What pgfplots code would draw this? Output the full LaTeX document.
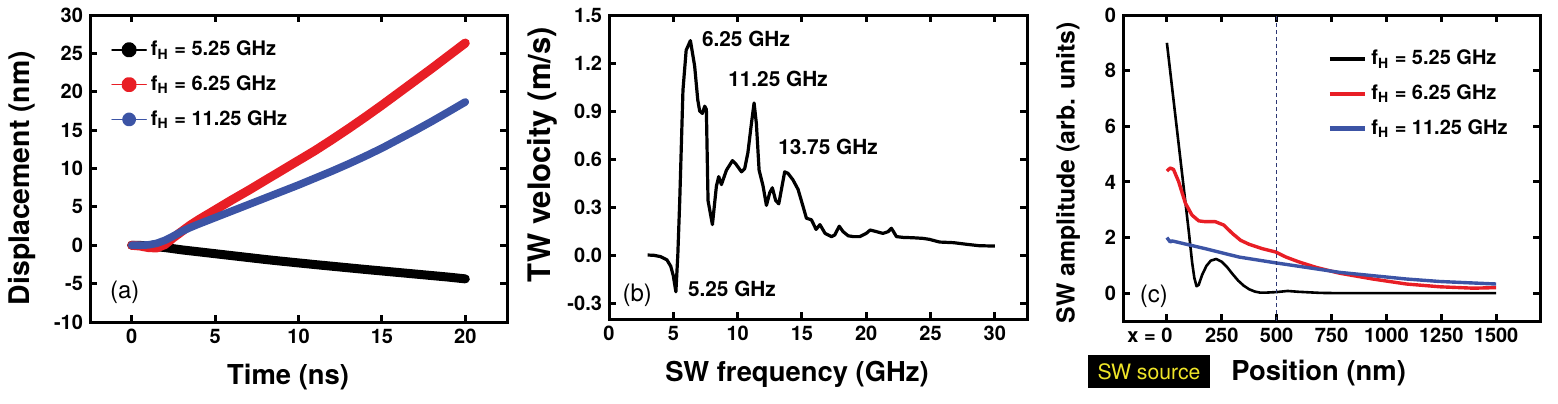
\documentclass[border=0pt]{standalone}
\usepackage{pgfplots}
\pgfplotsset{compat=1.18}
\usepackage{fontspec}
\setmainfont{TeX Gyre Heros}
\definecolor{myred}{RGB}{232,30,37}
\definecolor{myblue}{RGB}{60,84,165}
\definecolor{navy}{RGB}{45,55,115}
\definecolor{srcyellow}{RGB}{238,228,40}

\pgfplotsset{
  myaxis/.style={
    scale only axis,
    axis line style={line width=1.5pt},
    every tick/.style={black, line width=1.5pt},
    tick align=inside,
    major tick length=3.5pt,
    tick label style={font=\bfseries\fontsize{10}{12}\selectfont},
    /pgf/number format/assume math mode=true,
    label style={font=\bfseries\fontsize{13.7}{16}\selectfont},
  },
  dotleg/.style={legend image code/.code={
      \draw[##1, line width=0.8pt] (0cm,0cm) -- (0.6cm,0cm);
      \fill[##1] (0.3cm,0cm) circle (1.6pt);}},
}

\begin{document}
\begin{tikzpicture}
\path[use as bounding box] (0,0) rectangle (779pt,-201.5pt);

% ---------------- (a) ----------------
\begin{axis}[myaxis,
  at={(45pt,-7.5pt)}, anchor=north west,
  width=208.5pt, height=153.5pt,
  xmin=-2.5, xmax=22.5, ymin=-10, ymax=30,
  xtick={0,5,10,15,20}, ytick={-10,-5,0,5,10,15,20,25,30},
  xlabel={Time (ns)}, ylabel={Displacement (nm)},
  xlabel style={at={(axis description cs:0.475,0)}, anchor=center, yshift=-27.5pt},
  ylabel style={at={(axis description cs:0,0.469)}, anchor=center, yshift=34pt, font=\bfseries\fontsize{14.2}{16}\selectfont},
  legend style={draw=none, fill=none, at={(axis description cs:0.05,0.93)}, anchor=north west,
    font=\bfseries\fontsize{10}{12}\selectfont, row sep=4.5pt, inner sep=0pt},
  legend cell align=left,
]
\addplot[color=black, line width=4.5pt, line cap=round, line join=round, dotleg] coordinates {
(0,0)(0.5,-0.02)(1,-0.1)(1.5,-0.2)(2,-0.3)(2.5,-0.45)(3,-0.6)(4,-0.85)(5,-1.1)(6,-1.35)(7,-1.6)(8,-1.85)(9,-2.08)(10,-2.3)(11,-2.52)(12,-2.73)(13,-2.94)(14,-3.15)(15,-3.35)(16,-3.55)(17,-3.75)(18,-3.95)(19,-4.15)(20,-4.38)};
\addlegendentry{f\textsubscript{H} = 5.25 GHz}
\addplot[color=myred, line width=4.5pt, line cap=round, line join=round, dotleg] coordinates {
(0,0)(0.5,-0.1)(1,-0.3)(1.5,-0.35)(2,0.1)(2.5,1.0)(3,1.8)(3.5,2.6)(4,3.3)(5,4.6)(6,5.9)(7,7.15)(8,8.45)(9,9.75)(10,11.05)(11,12.35)(12,13.75)(13,15.2)(14,16.7)(15,18.25)(16,19.85)(17,21.45)(18,23.05)(19,24.7)(20,26.35)};
\addlegendentry{f\textsubscript{H} = 6.25 GHz}
\addplot[color=myblue, line width=3.8pt, line cap=round, line join=round, dotleg] coordinates {
(0,0)(0.5,0)(1,0.05)(1.5,0.25)(2,0.65)(2.5,1.2)(3,1.8)(3.5,2.3)(4,2.75)(5,3.6)(6,4.45)(7,5.3)(8,6.15)(9,7.0)(10,7.85)(11,8.75)(12,9.65)(13,10.6)(14,11.6)(15,12.65)(16,13.8)(17,14.95)(18,16.15)(19,17.4)(20,18.67)};
\addlegendentry{f\textsubscript{H} = 11.25 GHz}
\node[font=\fontsize{12}{14}\selectfont] at (axis cs:-0.42,-6.1) {(a)};
\end{axis}

% ---------------- (b) ----------------
\begin{axis}[myaxis,
  at={(304.5pt,-7.5pt)}, anchor=north west,
  width=209pt, height=152pt,
  xmin=0, xmax=32.5, ymin=-0.4, ymax=1.5,
  xtick={0,5,10,15,20,25,30}, ytick={-0.3,0,0.3,0.6,0.9,1.2,1.5},
  yticklabel style={/pgf/number format/.cd, fixed, fixed zerofill, precision=1},
  xlabel={SW frequency (GHz)}, ylabel={TW velocity (m/s)},
  xlabel style={at={(axis description cs:0.45,0)}, anchor=center, yshift=-27.5pt},
  ylabel style={at={(axis description cs:0,0.54)}, anchor=center, yshift=33.5pt, font=\bfseries\fontsize{15.5}{18}\selectfont},
]
\addplot[black, line width=1.6pt, line join=round] coordinates {
(3.0,0.0)(3.5,-0.002)(4.0,-0.01)(4.5,-0.03)(4.8,-0.07)(5.0,-0.13)(5.2,-0.23)(5.35,0.0)(5.5,0.34)(5.75,1.03)(6.0,1.28)(6.33,1.34)(6.66,1.18)(6.9,0.97)(7.05,0.9)(7.26,0.885)(7.44,0.93)(7.57,0.91)(7.7,0.34)(8.04,0.19)(8.35,0.43)(8.53,0.49)(8.74,0.44)(9.13,0.53)(9.6,0.59)(9.85,0.57)(10.3,0.52)(10.55,0.54)(10.8,0.64)(11.07,0.82)(11.28,0.95)(11.46,0.82)(11.67,0.53)(11.98,0.43)(12.24,0.31)(12.5,0.39)(12.7,0.42)(12.96,0.34)(13.2,0.32)(13.66,0.52)(13.92,0.51)(14.3,0.47)(14.7,0.41)(15.1,0.30)(15.35,0.23)(15.74,0.22)(16.1,0.16)(16.4,0.19)(16.8,0.135)(17.3,0.115)(17.55,0.125)(17.9,0.18)(18.2,0.146)(18.6,0.12)(19.0,0.115)(19.5,0.115)(20.0,0.135)(20.3,0.156)(20.8,0.146)(21.3,0.135)(21.7,0.146)(21.96,0.167)(22.35,0.115)(22.87,0.11)(23.6,0.108)(24.4,0.104)(24.9,0.098)(25.7,0.081)(26.8,0.077)(27.8,0.067)(28.8,0.058)(30.0,0.056)};
\begin{scope}[font=\bfseries\fontsize{10.4}{12}\selectfont]
\node at (axis cs:10.65,1.35) {6.25 GHz};
\node at (axis cs:13.14,1.10) {11.25 GHz};
\node at (axis cs:17.03,0.675) {13.75 GHz};
\node at (axis cs:9.56,-0.21) {5.25 GHz};
\end{scope}
\node[font=\fontsize{12}{14}\selectfont] at (axis cs:2.2,-0.25) {(b)};
\end{axis}

% ---------------- (c) ----------------
\begin{axis}[myaxis,
  at={(561.5pt,-7.5pt)}, anchor=north west,
  width=208.5pt, height=153pt,
  xmin=-200, xmax=1700, ymin=-1, ymax=10,
  xtick={0,250,500,750,1000,1250,1500},
  xticklabels={\llap{x = }0,250,500,750,1000,1250,1500},
  ytick={0,2,4,6,8,10}, yticklabels={0,2,4,6,8,0},
  xlabel={Position (nm)}, ylabel={SW amplitude (arb. units)},
  xlabel style={at={(axis description cs:0.469,0)}, anchor=center, yshift=-26pt},
  ylabel style={at={(axis description cs:0,0.485)}, anchor=center, yshift=27.5pt, font=\bfseries\fontsize{12.4}{14}\selectfont},
  legend style={draw=none, fill=none, at={(axis description cs:0.49,0.90)}, anchor=north west,
    font=\bfseries\fontsize{10}{12}\selectfont, row sep=4.5pt, inner sep=0pt},
  legend cell align=left,
  legend image code/.code={\draw[#1, line width=2.2pt] (0cm,0cm) -- (0.62cm,0cm);},
]
\addplot[black, line width=1.3pt, line join=round] coordinates {
(0,9.0)(25,7.3)(50,5.6)(75,3.9)(100,2.2)(115,1.1)(125,0.55)(135,0.25)(145,0.3)(160,0.65)(180,0.98)(200,1.17)(225,1.23)(250,1.13)(275,0.93)(300,0.68)(325,0.45)(350,0.27)(375,0.14)(400,0.06)(425,0.02)(450,0.02)(500,0.04)(550,0.08)(600,0.05)(700,0.01)(800,0)(1000,0)(1500,0)};
\addlegendentry{f\textsubscript{H} = 5.25 GHz}
\addplot[myred, line width=1.7pt, line join=round] coordinates {
(0,4.39)(15,4.5)(30,4.45)(53,4.02)(84,3.24)(114,2.81)(145,2.6)(175,2.57)(221,2.57)(259,2.45)(298,2.15)(336,1.9)(374,1.76)(435,1.6)(496,1.48)(542,1.3)(603,1.12)(679,0.93)(786,0.72)(938,0.51)(1091,0.33)(1244,0.23)(1396,0.18)(1500,0.2)};
\addlegendentry{f\textsubscript{H} = 6.25 GHz}
\addplot[myblue, line width=1.7pt, line join=round] coordinates {
(0,2.0)(15,1.84)(23,1.88)(175,1.6)(328,1.3)(496,1.09)(633,0.93)(786,0.75)(938,0.63)(1091,0.51)(1244,0.42)(1500,0.33)};
\addlegendentry{f\textsubscript{H} = 11.25 GHz}
\addplot[navy, line width=0.6pt, dash pattern=on 2pt off 1.5pt, forget plot] coordinates {(500,-1)(500,10)};
\node[font=\fontsize{12}{14}\selectfont] at (axis cs:-59,-0.1) {(c)};
\end{axis}

\node[fill=black, text=srcyellow, font=\fontsize{10.6}{12}\selectfont, minimum width=61pt, minimum height=16.5pt, inner sep=0pt] at (574.5pt,-185.75pt) {SW source};
\end{tikzpicture}
\end{document}
